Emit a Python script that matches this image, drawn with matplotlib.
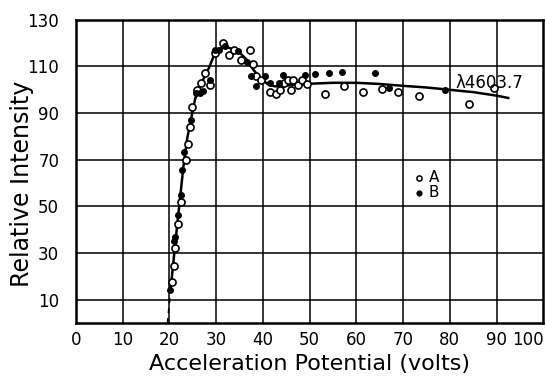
#!/usr/bin/env python3
"""Relative intensity of the 4603.7 line against acceleration potential."""

import matplotlib
matplotlib.use("Agg")
import matplotlib.pyplot as plt

# series A (open circles)
a_volts = [20.5, 20.9, 21.3, 21.8, 22.4, 23.5, 23.9, 24.4, 24.9, 25.9, 26.8,
           27.7, 28.6, 29.8, 31.5, 32.7, 33.8, 35.3, 37.2, 38.0, 38.6, 39.7,
           41.6, 42.9, 43.6, 44.5, 45.4, 46.1, 46.4, 47.5, 48.4, 49.5, 53.3,
           57.4, 61.4, 65.4, 69.0, 73.4, 84.2, 89.4]
a_int = [17.7, 24.6, 32.3, 42.5, 52.0, 69.7, 76.8, 84.0, 92.8, 100.0, 103.0,
         107.0, 102.0, 115.7, 120.0, 115.0, 117.0, 112.6, 117.0, 111.0, 106.0,
         104.0, 99.0, 98.3, 100.0, 103.0, 104.0, 100.0, 104.3, 102.0, 104.3,
         102.6, 98.3, 101.7, 99.0, 100.3, 99.2, 97.4, 94.0, 100.6]

# series B (filled dots)
b_volts = [20.2, 20.9, 21.2, 21.9, 22.4, 22.8, 23.1, 24.7, 25.6, 26.5, 27.2,
           28.6, 29.7, 30.6, 32.0, 34.7, 36.6, 37.5, 38.5, 40.5, 41.6, 43.4,
           44.4, 49.1, 51.1, 54.1, 57.0, 63.9, 66.9, 79.0]
b_int = [14.2, 35.0, 37.0, 46.4, 55.0, 65.7, 73.5, 87.0, 98.6, 98.6, 99.3,
         104.0, 117.0, 117.0, 118.7, 116.5, 112.0, 106.0, 101.7, 106.0, 103.0,
         103.0, 106.4, 106.4, 106.7, 107.0, 107.6, 107.4, 100.6, 100.0]

# hand-drawn curve through the points
curve_volts = [20.3, 21.2, 22.1, 23.0, 23.8, 24.7, 25.5, 26.5, 27.5, 28.5,
               29.5, 30.5, 32.0, 33.5, 35.0, 36.5, 38.0, 39.5, 41.0, 42.5,
               44.0, 46.0, 50.0, 55.0, 60.0, 65.0, 70.0, 75.0, 80.0, 85.0,
               90.0, 92.5]
curve_int = [15.0, 33.0, 50.0, 67.0, 79.0, 88.0, 96.0, 101.5, 105.5, 109.5,
             114.5, 117.5, 118.5, 117.5, 116.0, 113.0, 108.5, 105.0, 102.5,
             101.5, 101.5, 102.0, 102.6, 103.0, 103.0, 102.5, 101.7, 101.0,
             100.0, 99.0, 97.5, 96.5]
# dashed extrapolation to zero
dash_volts = [19.6, 20.3]
dash_int = [0.0, 15.0]

x_ticks = [0, 10, 20, 30, 40, 50, 60, 70, 80, 90, 100]
y_ticks = [10, 30, 50, 70, 90, 110, 130]

plt.rcParams['font.family'] = ['DejaVu Sans']

fig = plt.figure(figsize=(5.46, 3.81), dpi=100)
ax = fig.add_axes([0.139, 0.152, 0.856, 0.796])

for x in x_ticks[1:-1]:
    ax.axvline(x, color='black', lw=1.1, zorder=1)
for y in y_ticks[:-1]:
    ax.axhline(y, color='black', lw=1.1, zorder=1)

ax.plot(curve_volts, curve_int, color='black', lw=1.8, zorder=2)
ax.plot(dash_volts, dash_int, color='black', lw=1.2, ls=(0, (3, 3)), zorder=2)

ax.scatter(a_volts, a_int, s=26, facecolors='white', edgecolors='black',
           linewidths=1.2, zorder=3)
ax.scatter(b_volts, b_int, s=16, color='black', zorder=4)

# legend drawn as a small key
ax.scatter([73.5], [62.2], s=14, facecolors='white', edgecolors='black',
           linewidths=1.1, zorder=3)
ax.scatter([73.5], [55.8], s=12, color='black', zorder=3)
ax.text(75.5, 62.2, 'A', fontsize=11, va='center', ha='left')
ax.text(75.5, 55.8, 'B', fontsize=11, va='center', ha='left')

ax.text(81.3, 103, 'λ4603.7', fontsize=12, va='center', ha='left')

ax.set_xlim(0, 100)
ax.set_ylim(0, 130)
ax.set_xticks(x_ticks)
ax.set_yticks(y_ticks)
ax.tick_params(length=0, labelsize=12)
ax.tick_params(axis='x', pad=6)
ax.tick_params(axis='y', pad=12)
# keep the last x label inside the picture
ax.get_xticklabels()[-1].set_horizontalalignment('right')
for s in ax.spines.values():
    s.set_linewidth(1.8)

ax.set_xlabel('Acceleration Potential (volts)', fontsize=16, labelpad=3)
ax.set_ylabel('Relative Intensity', fontsize=17)
ax.yaxis.set_label_coords(-0.09, 0.46)

fig.savefig('out.png', dpi=100)
